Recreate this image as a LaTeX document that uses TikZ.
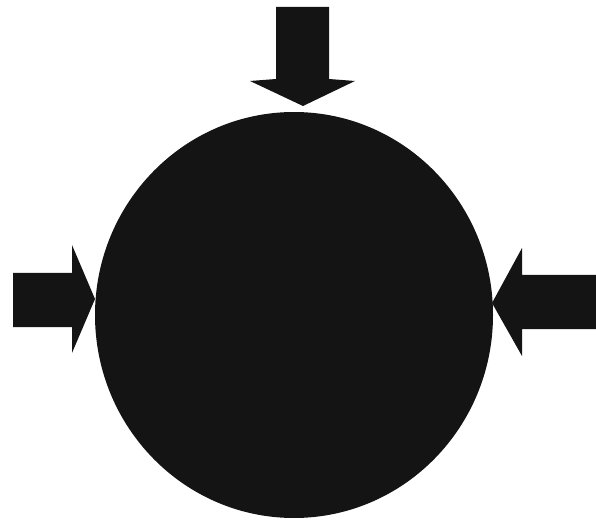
\documentclass[tikz,border=0pt]{standalone}
\definecolor{ink}{HTML}{141414}
\begin{document}
\begin{tikzpicture}[x=0.75pt,y=-0.75pt,
  blob/.style={fill=ink,draw=none}]
\useasboundingbox (0,0) rectangle (596,520);
% ball
\fill[blob] (294,315) ellipse [x radius=199,y radius=203];
% top arrow
\fill[blob] (276,7) -- (329,7) -- (329,79) -- (355,81) -- (303,106) -- (250,81) -- (276,79) -- cycle;
% left arrow
\fill[blob] (13,273) -- (72,273) -- (72,245) -- (95,299) -- (72,353) -- (72,327) -- (13,327) -- cycle;
% right arrow
\fill[blob] (596,275) -- (522,275) -- (522,248) -- (492,303) -- (522,356) -- (522,329) -- (596,329) -- cycle;
\end{tikzpicture}
\end{document}
